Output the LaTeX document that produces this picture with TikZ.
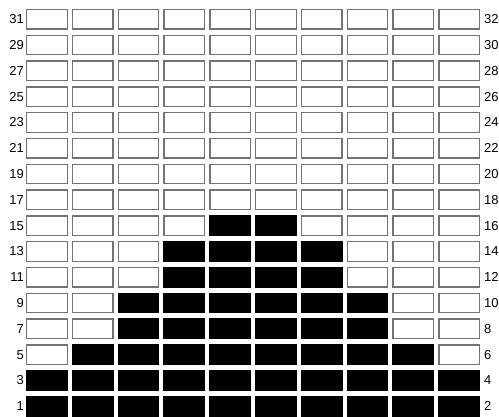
\documentclass[tikz,border=0pt]{standalone}
\usepackage{fontspec}
\setmainfont{Liberation Sans}
\begin{document}
\begin{tikzpicture}[x=1pt,y=-1pt]
    \tikzstyle{cell}=[draw=black!55,line width=1.3pt,fill=white,minimum width=40.5pt,minimum height=19.5pt,inner sep=0pt]
    \tikzstyle{on}=[cell,fill=black,draw=black]
    \tikzstyle{num}=[font=\fontsize{13}{13}\selectfont,text=black,inner sep=0pt]
    \useasboundingbox (0,0) rectangle (499,417);
    % row / first black column / last black column
    \foreach \r/\a/\b in {1/1/10,2/1/10,3/2/9,4/3/8,5/3/8,6/4/7,7/4/7,8/5/6,
                          9/11/0,10/11/0,11/11/0,12/11/0,13/11/0,14/11/0,15/11/0,16/11/0} {
      \pgfmathsetmacro\yy{19.25+(16-\r)*25.8}
      \node[num,anchor=east] (l\r) at (24,\yy) {\the\numexpr2*\r-1\relax};
      \foreach \c in {1,...,10} {
        \ifnum\c<\a \def\st{cell}\else\ifnum\c>\b \def\st{cell}\else\def\st{on}\fi\fi
        \node[\st] (c\r-\c) at ({46.9+(\c-1)*45.8},\yy) {};
      }
      \node[num,anchor=west] (r\r) at (484,\yy) {\the\numexpr2*\r\relax};
    }
\end{tikzpicture}
\end{document}
